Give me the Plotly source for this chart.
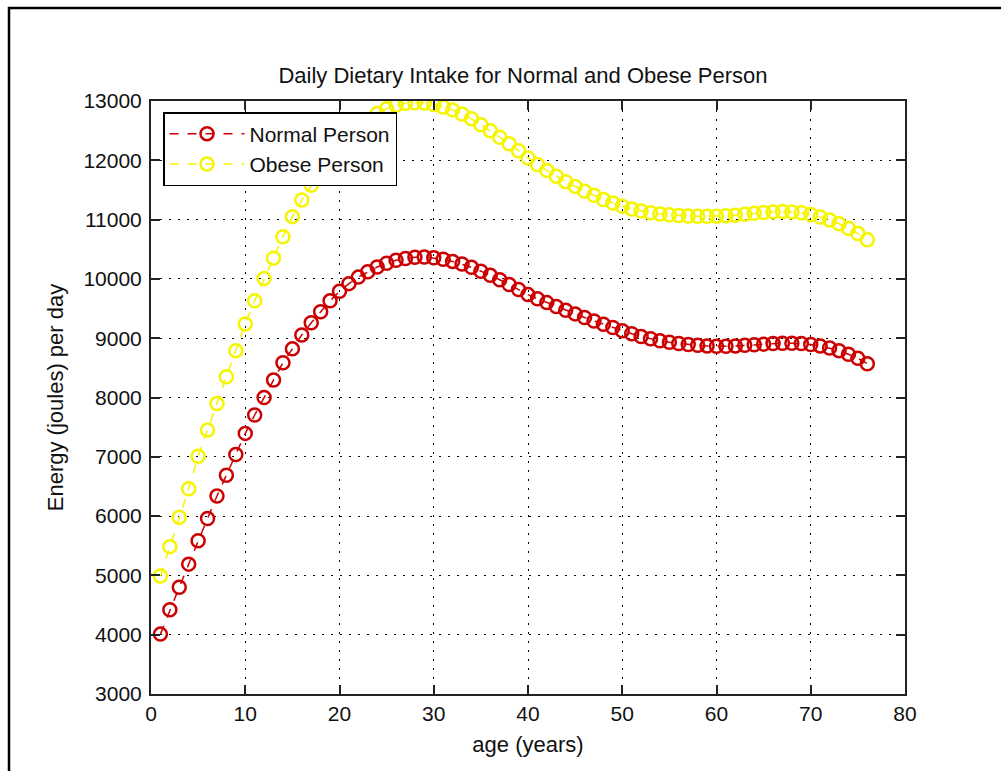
import plotly.graph_objects as go

ages = list(range(1, 77))

normal_person = [
    4010, 4420, 4800, 5190, 5585, 5960, 6340, 6690, 7040, 7395,
    7705, 8000, 8295, 8585, 8820, 9055, 9260, 9445, 9630, 9790,
    9920, 10030, 10120, 10200, 10265, 10315, 10345, 10365, 10370, 10355,
    10330, 10295, 10250, 10195, 10130, 10060, 9985, 9905, 9820, 9735,
    9665, 9600, 9535, 9470, 9410, 9350, 9290, 9235, 9180, 9125,
    9075, 9030, 8990, 8955, 8930, 8910, 8895, 8880, 8870, 8865,
    8865, 8870, 8880, 8890, 8900, 8910, 8915, 8915, 8910, 8895,
    8870, 8835, 8790, 8730, 8660, 8570,
]

obese_person = [
    4990, 5485, 5980, 6460, 7010, 7450, 7900, 8350, 8790, 9240,
    9630, 10005, 10350, 10710, 11050, 11330, 11580, 11810, 12030, 12230,
    12400, 12550, 12680, 12790, 12870, 12930, 12960, 12970, 12965, 12940,
    12900, 12850, 12780, 12700, 12600, 12500, 12390, 12280, 12160, 12040,
    11930, 11830, 11730, 11640, 11560, 11480, 11410, 11340, 11280, 11225,
    11180, 11145, 11115, 11095, 11080, 11068, 11060, 11055, 11055, 11058,
    11065, 11075, 11090, 11105, 11120, 11130, 11135, 11130, 11115, 11085,
    11045, 10995, 10930, 10855, 10765, 10660,
]

x_ticks = [0, 10, 20, 30, 40, 50, 60, 70, 80]
y_ticks = [3000, 4000, 5000, 6000, 7000, 8000, 9000, 10000, 11000, 12000, 13000]

FONT = "Liberation Sans, Arial, Helvetica, sans-serif"
RED = "#cc0000"
YELLOW = "#f5f500"

fig = go.Figure()
fig.add_trace(go.Scatter(
    x=ages, y=normal_person, name="Normal Person", mode="lines+markers",
    line=dict(color=RED, width=1.5, dash="dash"),
    marker=dict(symbol="circle-open", size=13, color=RED, line=dict(width=2.5, color=RED)),
))
fig.add_trace(go.Scatter(
    x=ages, y=obese_person, name="Obese Person", mode="lines+markers",
    line=dict(color=YELLOW, width=1.5, dash="dash"),
    marker=dict(symbol="circle-open", size=13, color=YELLOW, line=dict(width=2.5, color=YELLOW)),
))

axis_common = dict(
    showline=True, linecolor="#222222", linewidth=2, mirror="ticks",
    ticks="inside", ticklen=9, tickwidth=1.5, tickcolor="#222222",
    showgrid=True, gridcolor="#000000", gridwidth=1, griddash="2px,7px",
    zeroline=False, tickfont=dict(family=FONT, size=21, color="#111111"),
)

fig.update_layout(
    width=1001, height=771,
    margin=dict(l=151, r=96, t=101, b=77),
    paper_bgcolor="white", plot_bgcolor="white",
    font=dict(family=FONT, color="#111111"),
    title=dict(text="Daily Dietary Intake for Normal and Obese Person",
               x=523 / 1001, xanchor="center", xref="container",
               y=1 - 75 / 771, yanchor="middle", yref="container",
               font=dict(family=FONT, size=22, color="#111111")),
    xaxis=dict(range=[0, 80], tickvals=x_ticks, ticktext=[str(v) for v in x_ticks],
               title=dict(text="age (years)", font=dict(family=FONT, size=22), standoff=12),
               **axis_common),
    yaxis=dict(range=[3000, 13000], tickvals=y_ticks, ticktext=[str(v) for v in y_ticks],
               title=dict(text="Energy (joules) per day", font=dict(family=FONT, size=22), standoff=14),
               ticklabelstandoff=3,
               **axis_common),
    legend=dict(x=(163 - 151) / 754, y=1 - (112 - 101) / 593, xanchor="left", yanchor="top",
                bgcolor="white", bordercolor="#000000", borderwidth=1.5,
                font=dict(family=FONT, size=21, color="#111111"), itemwidth=75),
    showlegend=True,
    shapes=[dict(type="rect", xref="paper", yref="paper",
                 x0=(9 - 151) / 754, x1=1.3, y0=-0.3, y1=1 + (101 - 8) / 593,
                 line=dict(color="black", width=2.5), fillcolor="rgba(0,0,0,0)", layer="below")],
)

fig.write_html("out.html")
